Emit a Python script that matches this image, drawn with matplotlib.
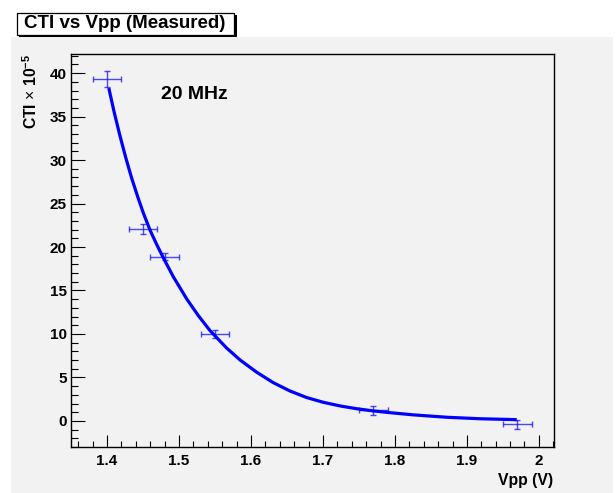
import numpy as np
import matplotlib
matplotlib.use("Agg")
import matplotlib.pyplot as plt
from matplotlib.patches import Rectangle
from matplotlib.ticker import MultipleLocator, FormatStrFormatter

plt.rcParams['font.family'] = ['Liberation Sans', 'DejaVu Sans']
plt.rcParams['mathtext.fontset'] = 'custom'
plt.rcParams['mathtext.rm'] = 'Liberation Sans'
plt.rcParams['mathtext.bf'] = 'Liberation Sans:bold'

# measured points
vpp = [1.40, 1.45, 1.48, 1.55, 1.77, 1.97]
cti = [39.3, 22.1, 18.9, 10.0, 1.2, -0.4]
vpp_err = [0.02, 0.02, 0.02, 0.02, 0.02, 0.02]
cti_err = [0.9, 0.6, 0.45, 0.45, 0.5, 0.5]

# fit curve
fit_x = [1.403, 1.410, 1.418, 1.426, 1.434, 1.443, 1.451, 1.460, 1.469,
         1.478, 1.492, 1.511, 1.527, 1.543, 1.566, 1.585, 1.608, 1.631,
         1.654, 1.677, 1.700, 1.724, 1.747, 1.770, 1.793, 1.825, 1.872,
         1.918, 1.967]
fit_y = [38.1, 35.5, 32.8, 30.3, 28.0, 25.7, 23.8, 21.9, 20.3,
         18.8, 16.6, 14.0, 12.1, 10.4, 8.4, 7.0, 5.6, 4.4,
         3.45, 2.7, 2.15, 1.72, 1.40, 1.15, 0.95, 0.70, 0.42,
         0.25, 0.15]

W, H = 616, 493
fig = plt.figure(figsize=(W / 100, H / 100), dpi=100, facecolor='white')

# grey canvas
fig.patches.append(Rectangle((11 / W, 0), (613 - 11) / W, (H - 37) / H,
                             transform=fig.transFigure, facecolor='#f2f2f2',
                             edgecolor='none', zorder=-5))

ax = fig.add_axes([71 / W, 1 - 447 / H, (554 - 71) / W, (447 - 54) / H])
ax.set_facecolor('#f2f2f2')
ax.set_zorder(1)

ax.plot(fit_x, fit_y, color='blue', lw=2.3, zorder=3,
        solid_joinstyle='round')
ax.errorbar(vpp, cti, xerr=vpp_err, yerr=cti_err, fmt='none', ecolor='blue',
            elinewidth=1, capsize=2.5, capthick=1, alpha=0.7, zorder=4)

ax.set_xlim(1.35, 2.021)
ax.set_ylim(-3.0, 42.2)

ax.xaxis.set_major_locator(MultipleLocator(0.1))
ax.xaxis.set_minor_locator(MultipleLocator(0.02))
ax.xaxis.set_major_formatter(FormatStrFormatter('%g'))
ax.yaxis.set_major_locator(MultipleLocator(5))
ax.yaxis.set_minor_locator(MultipleLocator(1))

ax.tick_params(axis='both', which='both', direction='in', top=False, right=False,
               width=0.8, labelsize=11)
ax.tick_params(axis='x', which='major', length=8.5, pad=5)
ax.tick_params(axis='x', which='minor', length=4.2)
ax.tick_params(axis='y', which='major', length=10, pad=3)
ax.tick_params(axis='y', which='minor', length=5)
for lab in ax.get_xticklabels() + ax.get_yticklabels():
    lab.set_fontweight('bold')
for sp in ax.spines.values():
    sp.set_linewidth(1.0)

ax.text(1.521, 37.5, '20 MHz', fontsize=14, fontweight='bold',
        ha='center', va='center')

fig.text(553 / W, 1 - 480 / H, 'Vpp (V)', fontsize=11.3, fontweight='bold',
         ha='right', va='center')
fig.text(31 / W, 1 - 54 / H, r'CTI $\times$ 10$^{\mathbf{-5}}$', fontsize=11.3,
         fontweight='bold', rotation=90, ha='center', va='top')

# title box with shadow
fig.patches.append(Rectangle((19.5 / W, 1 - 37 / H), 217 / W, 22 / H,
                             transform=fig.transFigure, facecolor='black',
                             edgecolor='none', zorder=5))
fig.patches.append(Rectangle((16.5 / W, 1 - 34.5 / H), 217 / W, 22 / H,
                             transform=fig.transFigure, facecolor='white',
                             edgecolor='black', lw=0.9, zorder=6))
fig.text(125 / W, 1 - 23.5 / H, 'CTI vs Vpp (Measured)', fontsize=13.5,
         fontweight='bold', ha='center', va='center', zorder=7)

fig.savefig('out.png', dpi=100, facecolor=fig.get_facecolor())
